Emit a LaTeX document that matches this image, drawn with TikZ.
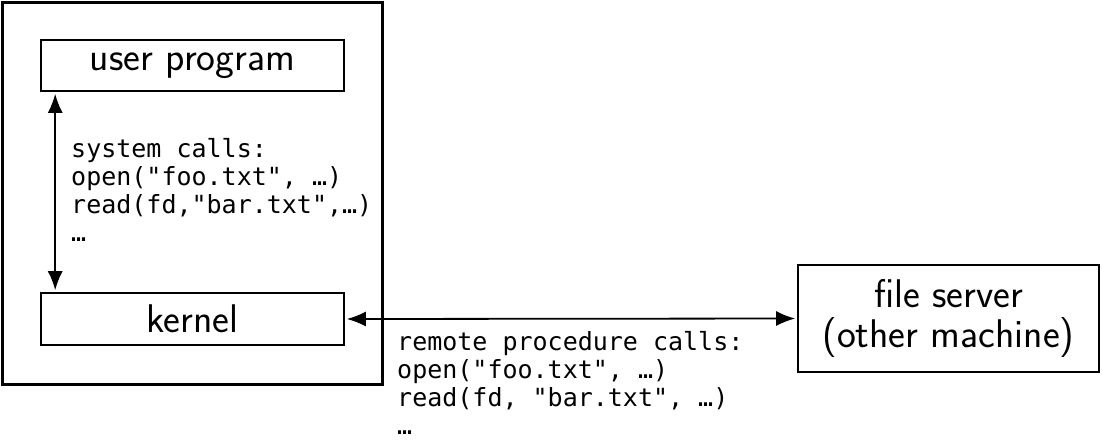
\documentclass[tikz,border=0pt]{standalone}
\usepackage{fontspec}
\setmonofont{DejaVu Sans Mono}
\usetikzlibrary{arrows.meta}
\tikzset{
  box/.style={draw, line width=1.6pt, rectangle, inner sep=0pt,
    font=\sffamily\fontsize{40}{40}\selectfont, align=center},
  codetext/.style={inner sep=0pt, anchor=base west, align=left,
    font=\ttfamily\fontsize{25}{27.7}\selectfont},
  link/.style={line width=1.8pt,
    {Latex[length=19pt,width=15pt]}-{Latex[length=19pt,width=15pt]},
    shorten <=2pt, shorten >=2pt}
}
\begin{document}
\begin{tikzpicture}[x=1pt,y=-1pt]
  \useasboundingbox (0,0) rectangle (1102,440);
  % local machine
  \node[draw, line width=3pt, minimum width=380pt, minimum height=382pt, inner sep=0pt]
    (machine) at (192,193) {};
  \node[box, minimum width=303pt, minimum height=51pt] (user) at (192.5,65.5) {user program};
  \node[box, minimum width=303pt, minimum height=52pt] (kernel) at (192.5,319) {kernel};
  % remote machine
  \node[box, minimum width=301pt, minimum height=107pt] (server) at (948.5,318.5)
    {file server\\(other machine)};
  % system call interface (anchor is the baseline of the last line)
  \draw[link] ([xshift=15pt]user.south west) -- ([xshift=15pt]kernel.north west);
  \node[codetext] (syscalls) at (71,241)
    {system calls:\\open("foo.txt", …)\\read(fd,"bar.txt",…)\\…};
  % remote procedure calls
  \draw[link] (kernel.east) -- (server.west);
  \node[codetext] (rpc) at (397,434)
    {remote procedure calls:\\open("foo.txt", …)\\read(fd, "bar.txt", …)\\…};
\end{tikzpicture}
\end{document}
